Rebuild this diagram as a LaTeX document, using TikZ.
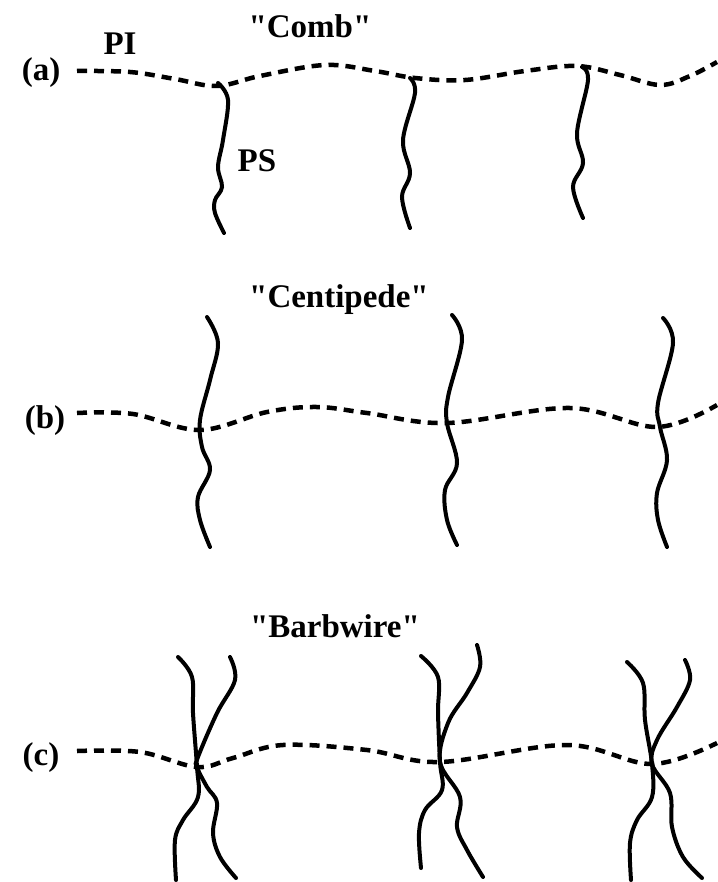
\documentclass[tikz,border=0pt]{standalone}
\usepackage{fontspec}
\setmainfont{Liberation Serif}[Ligatures=TeXOff]
\begin{document}
\begin{tikzpicture}[x=1pt,y=-1pt,
  lbl/.style={font=\fontsize{33}{39}\selectfont\bfseries, inner sep=0pt, anchor=base},
  backbone/.style={line width=4.5pt, dash pattern=on 10pt off 7pt},
  chain/.style={line width=4pt, line cap=round}]
\useasboundingbox (0,0) rectangle (717,882);

% ---------- (a) Comb ----------
\node[lbl] (la) at (41,81) {(a)};
\node[lbl] (pi) at (120,55) {PI};
\node[lbl] (comb) at (310,38) {"Comb"};
\node[lbl] (ps) at (257,172) {PS};
\draw[backbone] plot[smooth,tension=0.6] coordinates {(77,71) (130,72) (175,79) (217,86) (260,76) (325,65) (375,71) (415,78) (465,80) (525,71) (577,66) (620,75) (660,85) (690,76) (717,62)};
\draw[chain] plot[smooth,tension=0.6] coordinates {(218,83) (228,100) (223,140) (218,167) (222,187) (215,200) (215,213) (224,233)};
\draw[chain] plot[smooth,tension=0.6] coordinates {(410,78) (415,93) (403,140) (410,173) (402,197) (410,228)};
\draw[chain] plot[smooth,tension=0.6] coordinates {(582,67) (588,80) (577,133) (583,163) (573,187) (583,218)};

% ---------- (b) Centipede ----------
\node[lbl] (lb) at (45,428) {(b)};
\node[lbl] (centi) at (339,307) {"Centipede"};
\draw[backbone] plot[smooth,tension=0.6] coordinates {(77,413) (133,414) (200,430) (267,412) (317,407) (367,413) (447,423) (570,408) (657,427) (717,405)};
\draw[chain] plot[smooth,tension=0.6] coordinates {(207,317) (218,343) (210,380) (200,420) (202,447) (210,470) (198,497) (200,520) (210,547)};
\draw[chain] plot[smooth,tension=0.6] coordinates {(452,315) (462,340) (448,397) (447,423) (457,463) (445,490) (447,520) (457,545)};
\draw[chain] plot[smooth,tension=0.6] coordinates {(663,318) (673,343) (658,403) (660,427) (667,460) (657,493) (658,520) (667,547)};

% ---------- (c) Barbwire ----------
\node[lbl] (lc) at (41,765) {(c)};
\node[lbl] (barb) at (335,637) {"Barbwire"};
\draw[backbone] plot[smooth,tension=0.6] coordinates {(77,751) (140,752) (197,767) (233,758) (283,745) (367,750) (440,762) (567,745) (652,764) (717,743)};
% junction 1
\draw[chain] plot[smooth,tension=0.6] coordinates {(178,657) (192,677) (193,713) (197,767) (198,797) (183,820) (175,840) (176,880)};
\draw[chain] plot[smooth,tension=0.6] coordinates {(230,657) (235,680) (217,713) (198,757) (197,767) (207,787) (217,803) (213,833) (220,857) (236,878)};
% junction 2
\draw[chain] plot[smooth,tension=0.6] coordinates {(421,656) (438,677) (438,713) (440,762) (442,790) (425,810) (419,833) (421,868)};
\draw[chain] plot[smooth,tension=0.6] coordinates {(477,645) (480,667) (467,693) (448,723) (440,762) (460,797) (457,827) (467,850) (483,877)};
% junction 3
\draw[chain] plot[smooth,tension=0.6] coordinates {(627,662) (643,683) (645,720) (652,764) (652,797) (637,820) (630,843) (631,880)};
\draw[chain] plot[smooth,tension=0.6] coordinates {(685,660) (690,680) (677,707) (657,740) (652,764) (670,793) (672,827) (683,857) (702,878)};
\end{tikzpicture}
\end{document}
